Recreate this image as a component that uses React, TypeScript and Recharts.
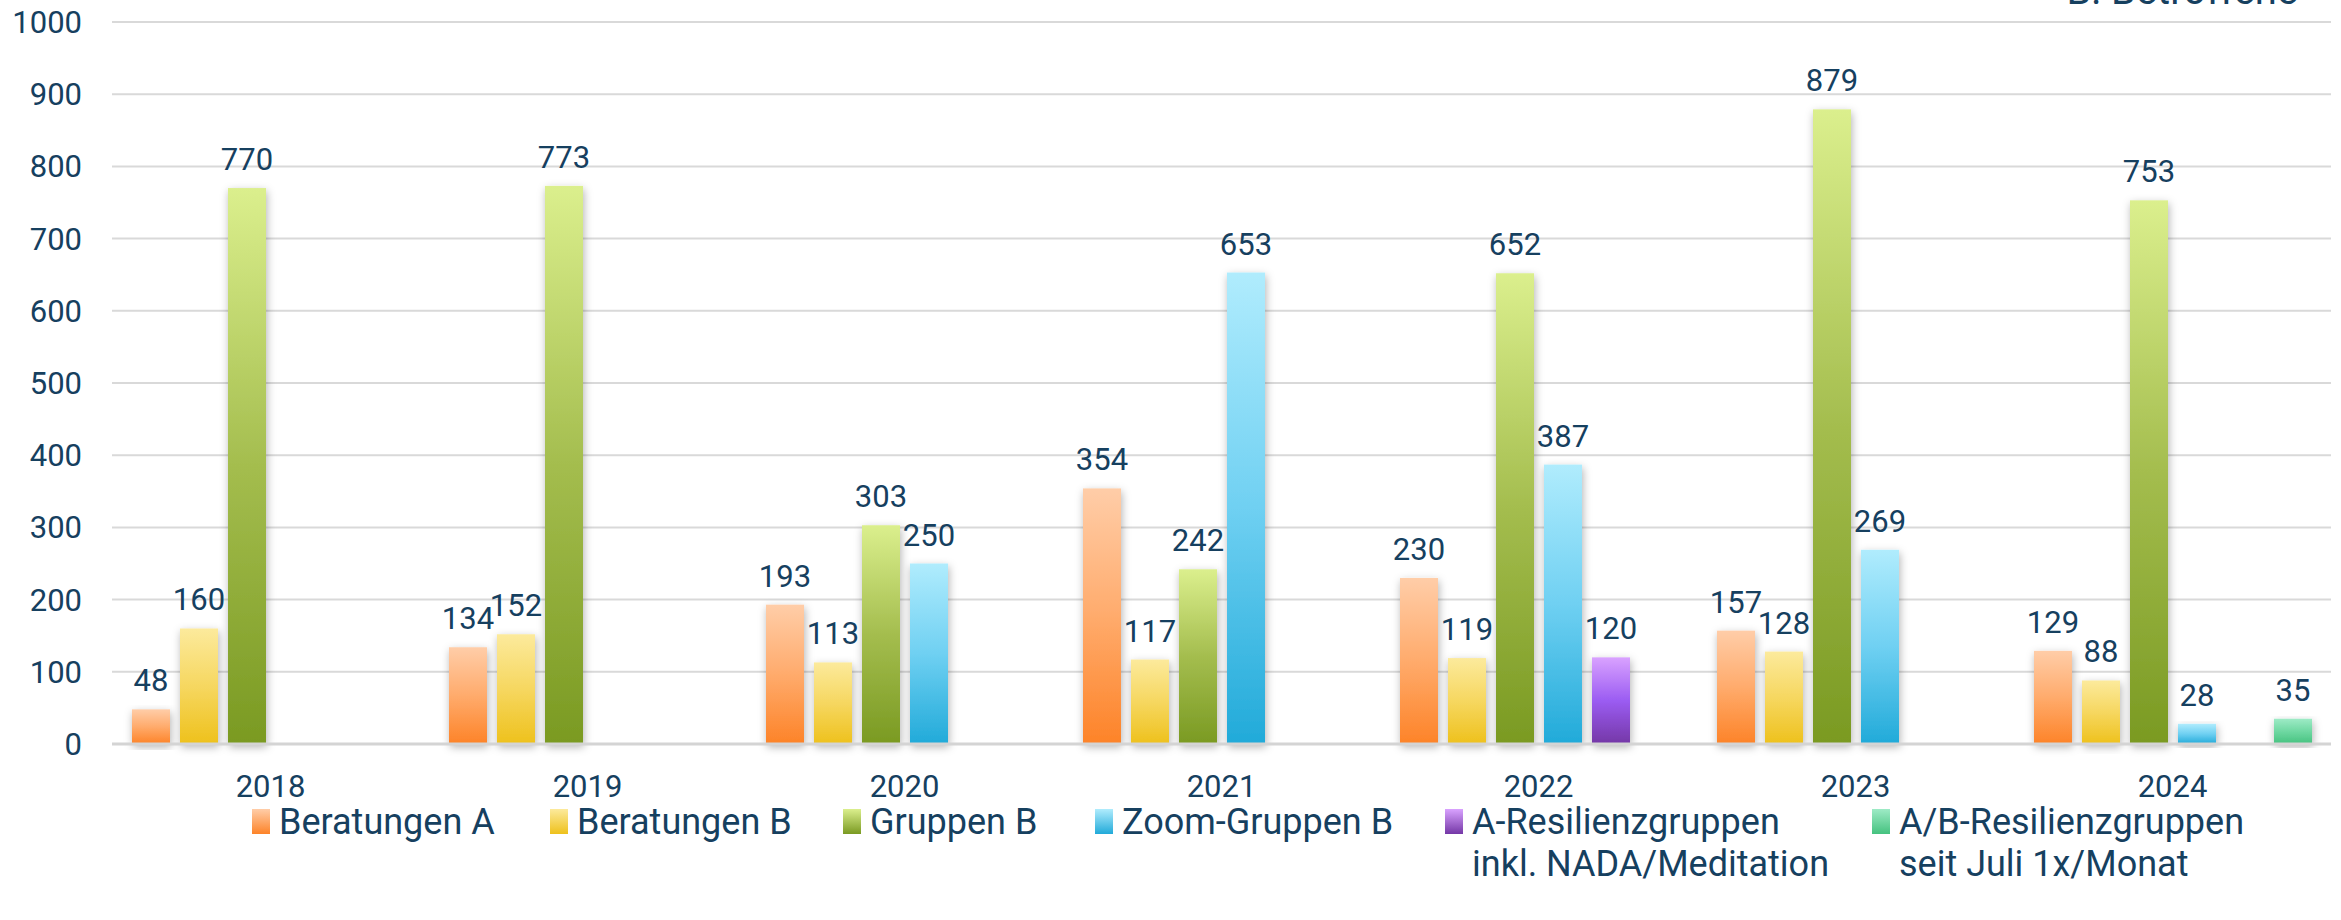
import { BarChart, Bar, XAxis, YAxis, CartesianGrid, LabelList } from "recharts";

const YEARS = ["2018", "2019", "2020", "2021", "2022", "2023", "2024"];
const BERATUNGEN_A = [48, 134, 193, 354, 230, 157, 129];
const BERATUNGEN_B = [160, 152, 113, 117, 119, 128, 88];
const GRUPPEN_B = [770, 773, 303, 242, 652, 879, 753];
const ZOOM_GRUPPEN_B = [null, null, 250, 653, 387, 269, 28];
const A_RESILIENZ = [null, null, null, null, 120, null, null];
const AB_RESILIENZ = [null, null, null, null, null, null, 35];
const Y_TICKS = [0, 100, 200, 300, 400, 500, 600, 700, 800, 900, 1000];

const TEXT = "#16405f";

// left edge of each legend entry, like the Excel legend
const LEGEND_LEFT = [252, 550, 843, 1095, 1445, 1872];

const SERIES = [
  { key: "beratungenA", name: ["Beratungen A"], values: BERATUNGEN_A, stops: ["#ffcda8", "#ffab6c", "#fd8328"] },
  { key: "beratungenB", name: ["Beratungen B"], values: BERATUNGEN_B, stops: ["#fcea9c", "#f6d760", "#eec11c"] },
  { key: "gruppenB", name: ["Gruppen B"], values: GRUPPEN_B, stops: ["#dbef8d", "#a4bd4e", "#7a9a22"] },
  { key: "zoomGruppenB", name: ["Zoom-Gruppen B"], values: ZOOM_GRUPPEN_B, stops: ["#b0ecfd", "#6fd0f2", "#21aad9"] },
  { key: "aResilienz", name: ["A-Resilienzgruppen", "inkl. NADA/Meditation"], values: A_RESILIENZ, stops: ["#d9a2ff", "#9b5cf2", "#7437a6"] },
  { key: "abResilienz", name: ["A/B-Resilienzgruppen", "seit Juli 1x/Monat"], values: AB_RESILIENZ, stops: ["#9eebc6", "#6fd8a2", "#45c27f"] },
];

const data = YEARS.map((year, i) => {
  const row: Record<string, any> = { year };
  SERIES.forEach((s) => {
    row[s.key] = s.values[i];
  });
  return row;
});

function BarShape(props: any) {
  const { x, y, width, height, fill } = props;
  if (!height || height <= 0) return null;
  return <rect x={x} y={y} width={width} height={height} fill={fill} filter="url(#barShadow)" />;
}

function ChartLegend() {
  return (
    <div style={{ position: "absolute", top: 801, left: 0, fontFamily: "Roboto", fontSize: 36, lineHeight: "42px", color: TEXT }}>
      {SERIES.map((s, i) => (
        <div key={s.key} style={{ position: "absolute", left: LEGEND_LEFT[i], top: 0, display: "flex", alignItems: "flex-start" }}>
          <div
            style={{
              width: 18,
              height: 25,
              marginTop: 8,
              marginRight: 9,
              background: `linear-gradient(${s.stops[0]}, ${s.stops[2]})`,
            }}
          />
          <div style={{ whiteSpace: "nowrap" }}>
            {s.name.map((line) => (
              <div key={line}>{line}</div>
            ))}
          </div>
        </div>
      ))}
    </div>
  );
}

export default function App() {
  return (
    <div
      style={{
        position: "absolute",
        left: 0,
        top: 0,
        width: 2341,
        height: 920,
        background: "#ffffff",
        overflow: "hidden",
        fontFamily: "Roboto",
      }}
    >
      <svg width={2341} height={20} style={{ position: "absolute", left: 0, top: 0 }}>
        <text x={2298} y={4} textAnchor="end" fontSize={40} fill={TEXT} fontFamily="Roboto">
          B: Betroffene
        </text>
      </svg>
      <BarChart
        width={2341}
        height={920}
        data={data}
        margin={{ top: 22, right: 10, bottom: 146, left: 0 }}
        barCategoryGap={20}
        barGap={10}
      >
        <defs>
          {SERIES.map((s) => (
            <linearGradient key={s.key} id={`g-${s.key}`} x1="0" y1="0" x2="0" y2="1">
              <stop offset="0%" stopColor={s.stops[0]} />
              <stop offset="50%" stopColor={s.stops[1]} />
              <stop offset="100%" stopColor={s.stops[2]} />
            </linearGradient>
          ))}
          <filter id="barShadow" x="-40%" y="-10%" width="180%" height="125%">
            <feDropShadow dx="1" dy="3" stdDeviation="4" floodColor="#000000" floodOpacity="0.3" />
          </filter>
        </defs>
        <CartesianGrid vertical={false} stroke="#d9d9d9" strokeWidth={2} />
        <XAxis
          dataKey="year"
          height={30}
          interval={0}
          tickLine={false}
          tickMargin={25}
          axisLine={{ stroke: "#d4d4d4", strokeWidth: 3 }}
          tick={{ fill: TEXT, fontSize: 31 }}
        />
        <YAxis
          width={112}
          domain={[0, 1000]}
          ticks={Y_TICKS}
          interval={0}
          axisLine={false}
          tickLine={false}
          tickMargin={24}
          tick={{ fill: TEXT, fontSize: 31 }}
        />
        {SERIES.map((s) => (
          <Bar
            key={s.key}
            dataKey={s.key}
            name={s.name.join(" ")}
            fill={`url(#g-${s.key})`}
            shape={BarShape}
            isAnimationActive={false}
          >
            <LabelList dataKey={s.key} position="top" offset={18} fill={TEXT} fontSize={31} />
          </Bar>
        ))}
      </BarChart>
      <ChartLegend />
    </div>
  );
}
